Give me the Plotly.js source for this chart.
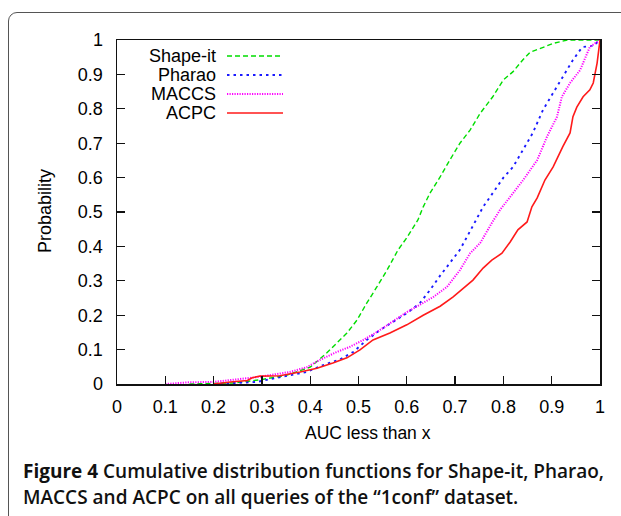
<!DOCTYPE html>
<html>
<head>
<meta charset="utf-8">
<script src="https://cdn.plot.ly/plotly-3.0.1.min.js"></script>
<style>
  html, body { margin: 0; padding: 0; background: #fff; }
  #wrap { position: relative; width: 621px; height: 516px; overflow: hidden; }
  #frame { position: absolute; left: 8px; top: 12px; width: 700px; height: 600px;
           border: 1.5px solid #555; border-radius: 9px; box-sizing: border-box; }
  #chart { position: absolute; left: 0; top: 0; width: 621px; height: 516px; }
</style>
</head>
<body>
<div id="wrap">
  <div id="frame"></div>
  <div id="chart"></div>
</div>
<script>
// ---- data ----
const seriesNames = ["Shape-it", "Pharao", "MACCS", "ACPC"];

const shapeX = [0.15,0.24,0.296,0.352,0.40,0.413,0.434,0.455,0.476,0.497,0.517,0.538,0.559,0.582,0.60,0.623,0.634,0.648,0.669,0.689,0.71,0.731,0.752,0.778,0.80,0.82,0.84,0.855,0.903,0.932,1.0];
const shapeY = [0,0.003,0.012,0.026,0.049,0.064,0.09,0.119,0.148,0.186,0.235,0.282,0.331,0.39,0.425,0.477,0.515,0.555,0.602,0.651,0.70,0.738,0.787,0.835,0.884,0.908,0.942,0.964,0.99,1.0,1.0];

const pharaoX = [0.20,0.29,0.31,0.352,0.393,0.427,0.447,0.462,0.489,0.517,0.545,0.571,0.60,0.627,0.648,0.669,0.689,0.71,0.737,0.758,0.778,0.80,0.82,0.84,0.861,0.882,0.903,0.923,0.944,0.959,0.965,0.986,1.0];
const pharaoY = [0,0.006,0.012,0.023,0.035,0.055,0.065,0.072,0.093,0.128,0.157,0.18,0.206,0.235,0.273,0.315,0.351,0.39,0.46,0.515,0.555,0.60,0.631,0.68,0.73,0.797,0.845,0.893,0.942,0.971,0.98,0.983,1.0];

const maccsX = [0.10,0.15,0.199,0.24,0.29,0.358,0.393,0.42,0.455,0.482,0.51,0.538,0.565,0.60,0.627,0.655,0.683,0.71,0.731,0.752,0.776,0.793,0.814,0.841,0.87,0.89,0.911,0.921,0.938,0.959,0.979,0.993,1.0];
const maccsY = [0,0.005,0.006,0.012,0.02,0.035,0.049,0.07,0.093,0.108,0.128,0.151,0.177,0.209,0.23,0.253,0.282,0.331,0.38,0.41,0.468,0.506,0.544,0.593,0.651,0.718,0.777,0.835,0.875,0.913,0.98,0.995,1.0];

const acpcX = [0.20,0.234,0.27,0.28,0.296,0.337,0.379,0.414,0.447,0.476,0.503,0.53,0.565,0.60,0.634,0.669,0.696,0.717,0.737,0.758,0.776,0.797,0.814,0.83,0.849,0.859,0.87,0.886,0.903,0.923,0.938,0.944,0.952,0.965,0.979,0.986,0.994,1.0];
const acpcY = [0,0.006,0.01,0.018,0.023,0.024,0.035,0.046,0.061,0.076,0.099,0.128,0.148,0.172,0.20,0.226,0.253,0.279,0.302,0.337,0.36,0.38,0.413,0.448,0.471,0.515,0.541,0.593,0.631,0.69,0.73,0.777,0.805,0.835,0.855,0.875,0.933,1.0];

const xTicks = [0,0.1,0.2,0.3,0.4,0.5,0.6,0.7,0.8,0.9,1];
const xTickLabels = ["0","0.1","0.2","0.3","0.4","0.5","0.6","0.7","0.8","0.9","1"];
const yTicks = [0,0.1,0.2,0.3,0.4,0.5,0.6,0.7,0.8,0.9,1];
const yTickLabels = ["0","0.1","0.2","0.3","0.4","0.5","0.6","0.7","0.8","0.9","1"];

const xTitle = "AUC less than x";
const yTitle = "Probability";
const captionLine1 = "<b>Figure 4</b> Cumulative distribution functions for Shape-it, Pharao,";
const captionLine2 = "MACCS and ACPC on all queries of the \u201c1conf\u201d dataset.";

// ---- styles ----
const styles = [
  {color: "#00dd00", dash: "5px,3px", width: 1.4},
  {color: "#1a1aff", dash: "2.5px,4px", width: 1.9},
  {color: "#ff00ff", dash: "1.2px,1.3px", width: 2},
  {color: "#ff1a1a", dash: "solid", width: 1.6}
];
const xs = [shapeX, pharaoX, maccsX, acpcX];
const ys = [shapeY, pharaoY, maccsY, acpcY];

const traces = xs.map((x, i) => ({
  x: x, y: ys[i], type: "scatter", mode: "lines", name: seriesNames[i],
  line: {color: styles[i].color, dash: styles[i].dash, width: styles[i].width},
  showlegend: false, hoverinfo: "skip"
}));

// ---- layout ----
const W = 621, H = 516;
const M = {l: 117, r: 21, t: 40, b: 132};
const pw = W - M.l - M.r, ph = H - M.t - M.b;
const px2x = p => (p - M.l) / pw;
const py2y = p => (H - M.b - p) / ph;

const font = "Liberation Sans, Arial, sans-serif";
const annotations = [];
const shapes = [];

// gnuplot-style key: right-aligned text, sample line to its right
const keyRows = [56, 75, 94, 113];
seriesNames.forEach((n, i) => {
  annotations.push({
    xref: "paper", yref: "paper", x: px2x(218), y: py2y(keyRows[i]),
    xanchor: "right", yanchor: "middle", text: n, showarrow: false,
    font: {family: font, size: 18, color: "#000"}
  });
  shapes.push({
    type: "line", xref: "paper", yref: "paper",
    x0: px2x(227), x1: px2x(283), y0: py2y(keyRows[i]), y1: py2y(keyRows[i]),
    line: {color: styles[i].color, dash: styles[i].dash, width: styles[i].width}
  });
});

annotations.push({
  xref: "paper", yref: "paper", x: px2x(368), y: py2y(433),
  xanchor: "center", yanchor: "middle", text: xTitle, showarrow: false,
  font: {family: font, size: 17.5, color: "#000"}
});
annotations.push({
  xref: "paper", yref: "paper", x: px2x(45), y: py2y(211),
  xanchor: "center", yanchor: "middle", text: yTitle, showarrow: false, textangle: -90,
  font: {family: font, size: 18, color: "#000"}
});
annotations.push({
  xref: "paper", yref: "paper", x: px2x(21), y: py2y(471),
  xanchor: "left", yanchor: "middle", text: captionLine1, showarrow: false,
  font: {family: "Open Sans, Noto Sans, sans-serif", size: 19, color: "#111", weight: 600}
});
annotations.push({
  xref: "paper", yref: "paper", x: px2x(21), y: py2y(497),
  xanchor: "left", yanchor: "middle", text: captionLine2, showarrow: false,
  font: {family: "Open Sans, Noto Sans, sans-serif", size: 19, color: "#111", weight: 600}
});

const axisCommon = {
  range: [0, 1], showgrid: false, zeroline: false, showline: true,
  linecolor: "#111", linewidth: 1.5, ticks: "inside", ticklen: 8,
  tickwidth: 1.3, tickcolor: "#111",
  tickfont: {family: font, size: 18, color: "#000"}, fixedrange: true
};

const layout = {
  width: W, height: H, margin: M,
  paper_bgcolor: "rgba(0,0,0,0)", plot_bgcolor: "rgba(0,0,0,0)",
  xaxis: Object.assign({}, axisCommon, {
    tickvals: xTicks, ticktext: xTickLabels, mirror: true, ticklabelstandoff: 6
  }),
  yaxis: Object.assign({}, axisCommon, {
    tickvals: yTicks, ticktext: yTickLabels, mirror: "ticks", ticklabelstandoff: 9
  }),
  annotations: annotations, shapes: shapes
};

Plotly.newPlot("chart", traces, layout, {displayModeBar: false, staticPlot: true});
</script>
</body>
</html>
